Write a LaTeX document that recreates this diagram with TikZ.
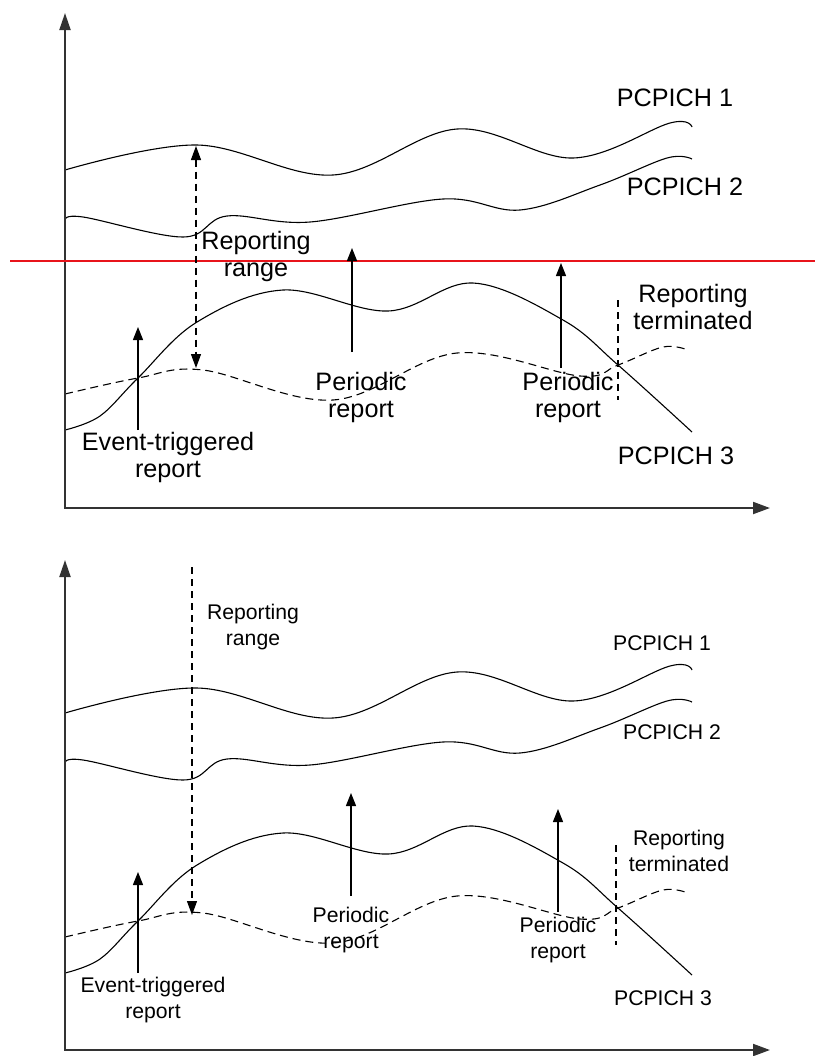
\documentclass[tikz,border=0pt]{standalone}
\usepackage{fontspec}
\setmainfont{Liberation Sans}
\usetikzlibrary{arrows.meta,positioning}
\definecolor{rangered}{HTML}{E8141B}
\definecolor{axisgrey}{HTML}{333333}

\begin{document}
\begin{tikzpicture}[
    x=0.5pt, y=-0.5pt,
    axis/.style={draw=axisgrey, line width=1pt, {Triangle[length=8.5pt,width=5.5pt]}-{Triangle[length=8.5pt,width=6pt]}},
    curve/.style={line width=0.55pt, smooth, tension=0.6},
    dashcurve/.style={curve, dash pattern=on 4pt off 2.5pt},
    report/.style={line width=0.6pt, -{Triangle[length=6.5pt,width=5pt]}},
    dashline/.style={line width=0.6pt, dash pattern=on 3.5pt off 2.5pt},
    lbl/.style={align=center, inner sep=0pt, font=\fontsize{12.6}{13.5}\selectfont},
    lblsmall/.style={align=center, inner sep=0pt, font=\fontsize{10.6}{13}\selectfont}
  ]
    \useasboundingbox (0,0) rectangle (815,1056);

    % the same four pilot curves in both panels
    \foreach \dy in {0,543} {
      \begin{scope}[shift={(0,\dy)}]
        \draw[curve] plot coordinates {(65,170) (197,145) (333,175) (457,129) (573,158) (670,123) (692,127)};
        \draw[curve] plot coordinates {(65,220) (83,217) (183,237) (227,216) (310,222) (443,199) (520,210) (600,185) (667,158) (692,159)};
        \draw[curve] plot coordinates {(65,430) (100,416) (138,378) (197,322) (283,290) (388,311) (473,283) (563,320) (618,365) (692,432)};
        \draw[dashcurve] plot coordinates {(65,394) (138,378) (203,370) (333,400) (457,353) (580,376) (618,365) (663,347) (688,350)};
      \end{scope}
    }

    % top panel
    \coordinate (ytop) at (65,13);
    \coordinate (xtop) at (770,508);
    \draw[axis] (ytop) |- (xtop);

    \coordinate (redL) at (10,261);
    \coordinate (redR) at (815,261);
    \draw[rangered, line width=1pt] (redL) -- (redR);

    \coordinate (rangeA) at (196,146);
    \coordinate (rangeB) at (196,368);
    \draw[dashline, {Triangle[length=7pt,width=5pt]}-{Triangle[length=7pt,width=5pt]}] (rangeA) -- (rangeB);

    \coordinate (evtS) at (138,430);
    \coordinate (evtE) at (138,327);
    \draw[report] (evtS) -- (evtE);
    \coordinate (perS) at (352,352);
    \coordinate (perE) at (352,248);
    \draw[report] (perS) -- (perE);
    \coordinate (perbS) at (561,368);
    \coordinate (perbE) at (561,263);
    \draw[report] (perbS) -- (perbE);
    \coordinate (termA) at (618,300);
    \coordinate (termB) at (618,400);
    \draw[dashline] (termA) -- (termB);

    \node[lbl] (pc1) at (675,98) {PCPICH 1};
    \node[lbl] (pc2) at (685,187) {PCPICH 2};
    \node[lbl] (pc3) at (676,456) {PCPICH 3};
    \node[lbl] (range) at (256,256) {Reporting\\range};
    \node[lbl] (evt) at (168,457) {Event-triggered\\report};
    \node[lbl] (per) at (361,397) {Periodic\\report};
    \node[lbl] (perb) at (568,397) {Periodic\\report};
    \node[lbl] (term) at (693,307) {Reporting\\terminated};

    % bottom panel
    \coordinate (ybot) at (65,560);
    \coordinate (xbot) at (770,1050);
    \draw[axis] (ybot) |- (xbot);

    \coordinate (rangebA) at (192,567);
    \coordinate (rangebB) at (192,915);
    \draw[dashline, -{Triangle[length=7pt,width=5pt]}] (rangebA) -- (rangebB);

    \coordinate (evtbS) at (138,973);
    \coordinate (evtbE) at (138,872);
    \draw[report] (evtbS) -- (evtbE);
    \coordinate (pertS) at (351,896);
    \coordinate (pertE) at (351,793);
    \draw[report] (pertS) -- (pertE);
    \coordinate (peruS) at (558,912);
    \coordinate (peruE) at (558,809);
    \draw[report] (peruS) -- (peruE);
    \coordinate (termbA) at (616,845);
    \coordinate (termbB) at (616,945);
    \draw[dashline] (termbA) -- (termbB);

    \node[lblsmall] (pcb1) at (662,643) {PCPICH 1};
    \node[lblsmall] (pcb2) at (672,732) {PCPICH 2};
    \node[lblsmall] (pcb3) at (663,998) {PCPICH 3};
    \node[lblsmall] (rangeb) at (253,627) {Reporting\\range};
    \node[lblsmall] (evtb) at (153,1000) {Event-triggered\\report};
    \node[lblsmall] (pert) at (351,930) {Periodic\\report};
    \node[lblsmall] (peru) at (558,940) {Periodic\\report};
    \node[lblsmall] (termb) at (679,851) {Reporting\\terminated};
  \end{tikzpicture}
\end{document}
